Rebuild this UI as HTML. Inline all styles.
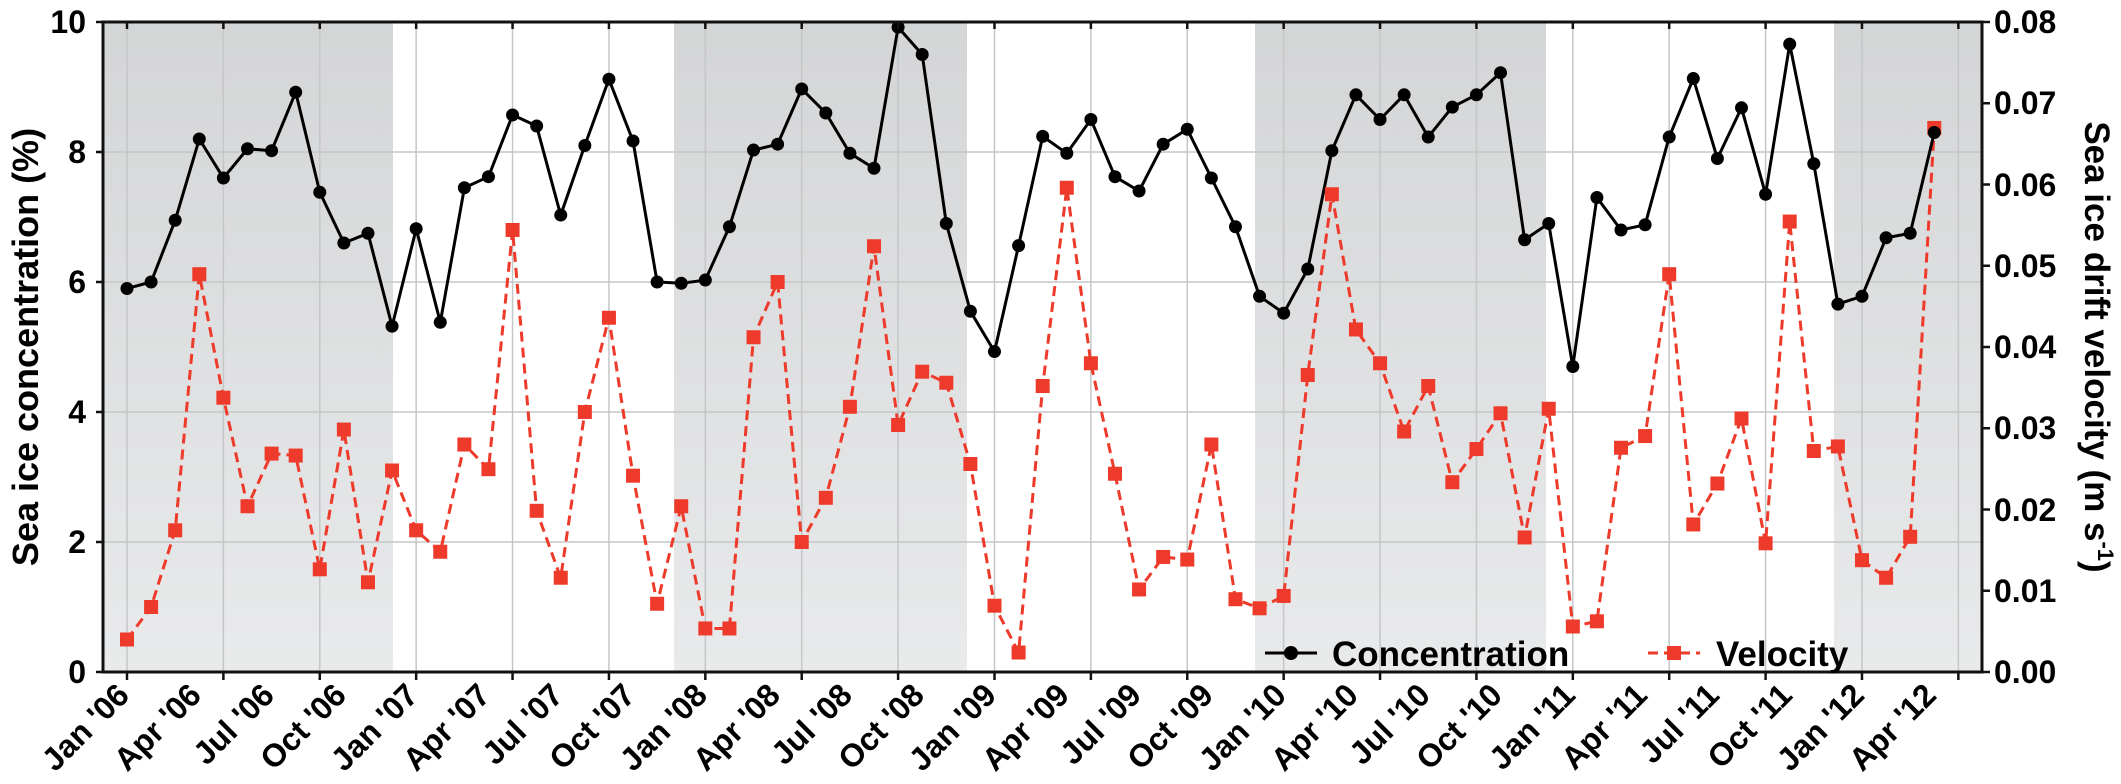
<!DOCTYPE html>
<html><head><meta charset="utf-8"><style>
html,body{margin:0;padding:0;background:#fff;}
svg{display:block;font-family:"Liberation Sans",Arial,sans-serif;font-weight:bold;}
</style></head><body>
<svg id="c" width="2121" height="784" viewBox="0 0 2121 784" xmlns="http://www.w3.org/2000/svg">
<defs>
<linearGradient id="g" x1="0" y1="0" x2="0" y2="1"><stop offset="0" stop-color="#d4d5d6"/><stop offset="1" stop-color="#e9eaeb"/></linearGradient>
</defs>
<rect x="103" y="22" width="290" height="650" fill="url(#g)"/>
<rect x="674" y="22" width="293" height="650" fill="url(#g)"/>
<rect x="1255" y="22" width="291" height="650" fill="url(#g)"/>
<rect x="1834" y="22" width="148" height="650" fill="url(#g)"/>
<g id="grid" stroke="#c4c6c8" stroke-width="1.5"></g>
<g id="series"></g>
<rect x="103" y="22" width="1879" height="650" fill="none" stroke="#111" stroke-width="3"/>
<g id="ticks" stroke="#111" stroke-width="2.5"></g>
<g font-size="32" fill="#000" text-anchor="end">
<text x="86" y="33">10</text><text x="86" y="163">8</text><text x="86" y="293">6</text><text x="86" y="423">4</text><text x="86" y="553">2</text><text x="86" y="683">0</text>
</g>
<g font-size="32" fill="#000" text-anchor="start">
<text x="1994" y="33">0.08</text><text x="1994" y="114">0.07</text><text x="1994" y="196">0.06</text><text x="1994" y="277">0.05</text><text x="1994" y="358">0.04</text><text x="1994" y="439">0.03</text><text x="1994" y="521">0.02</text><text x="1994" y="602">0.01</text><text x="1994" y="683">0.00</text>
</g>
<text font-size="36" text-anchor="middle" transform="translate(38,347) rotate(-90)">Sea ice concentration (%)</text>
<text font-size="35" text-anchor="middle" transform="translate(2085,347) rotate(90)">Sea ice drift velocity (m s<tspan font-size="22" dy="-13">-1</tspan><tspan dy="13">)</tspan></text>
<g font-size="32" text-anchor="end">
<text transform="translate(131,697) rotate(-45)">Jan '06</text>
<text transform="translate(203,697) rotate(-45)">Apr '06</text>
<text transform="translate(276,697) rotate(-45)">Jul '06</text>
<text transform="translate(348,697) rotate(-45)">Oct '06</text>
<text transform="translate(420,697) rotate(-45)">Jan '07</text>
<text transform="translate(492,697) rotate(-45)">Apr '07</text>
<text transform="translate(565,697) rotate(-45)">Jul '07</text>
<text transform="translate(637,697) rotate(-45)">Oct '07</text>
<text transform="translate(709,697) rotate(-45)">Jan '08</text>
<text transform="translate(782,697) rotate(-45)">Apr '08</text>
<text transform="translate(854,697) rotate(-45)">Jul '08</text>
<text transform="translate(926,697) rotate(-45)">Oct '08</text>
<text transform="translate(998,697) rotate(-45)">Jan '09</text>
<text transform="translate(1071,697) rotate(-45)">Apr '09</text>
<text transform="translate(1143,697) rotate(-45)">Jul '09</text>
<text transform="translate(1215,697) rotate(-45)">Oct '09</text>
<text transform="translate(1288,697) rotate(-45)">Jan '10</text>
<text transform="translate(1360,697) rotate(-45)">Apr '10</text>
<text transform="translate(1432,697) rotate(-45)">Jul '10</text>
<text transform="translate(1504,697) rotate(-45)">Oct '10</text>
<text transform="translate(1577,697) rotate(-45)">Jan '11</text>
<text transform="translate(1649,697) rotate(-45)">Apr '11</text>
<text transform="translate(1721,697) rotate(-45)">Jul '11</text>
<text transform="translate(1794,697) rotate(-45)">Oct '11</text>
<text transform="translate(1866,697) rotate(-45)">Jan '12</text>
<text transform="translate(1938,697) rotate(-45)">Apr '12</text>
</g>
<g>
<line x1="1265" y1="653" x2="1317" y2="653" stroke="#000" stroke-width="3"/>
<circle cx="1291" cy="653" r="7" fill="#000"/>
<text x="1332" y="666" font-size="35">Concentration</text>
<line x1="1648" y1="653" x2="1700" y2="653" stroke="#ee3a2a" stroke-width="3" stroke-dasharray="10,6"/>
<rect x="1667" y="646" width="14" height="14" fill="#ee3a2a"/>
<text x="1716" y="666" font-size="35">Velocity</text>
</g>
</svg>
<script>
(function(){
var NS="http://www.w3.org/2000/svg";
function X(m){return 127+m*24.097;}
function Y(v){return 672-65*v;}
var conc=[5.9,6.0,6.95,8.2,7.6,8.05,8.02,8.92,7.38,6.6,6.75,5.32,
6.82,5.38,7.45,7.62,8.57,8.4,7.03,8.1,9.12,8.17,6.0,5.98,
6.03,6.85,8.03,8.12,8.97,8.6,7.98,7.75,9.92,9.5,6.9,5.55,
4.93,6.56,8.24,7.98,8.5,7.62,7.4,8.12,8.35,7.6,6.85,5.78,
5.52,6.2,8.02,8.88,8.5,8.88,8.23,8.69,8.88,9.22,6.65,6.9,
4.7,7.3,6.8,6.88,8.23,9.13,7.9,8.68,7.35,9.66,7.82,5.66,
5.78,6.68,6.75,8.3];
var vel=[0.5,1.0,2.18,6.12,4.22,2.55,3.36,3.33,1.58,3.73,1.38,3.1,
2.18,1.85,3.5,3.12,6.8,2.48,1.45,4.0,5.45,3.02,1.05,2.55,
0.67,0.67,5.15,6.0,2.0,2.68,4.08,6.55,3.8,4.62,4.45,3.2,
1.02,0.3,4.4,7.45,4.75,3.05,1.27,1.77,1.73,3.5,1.12,0.98,
1.17,4.57,7.35,5.27,4.75,3.7,4.4,2.92,3.43,3.98,2.07,4.05,
0.7,0.78,3.45,3.63,6.12,2.27,2.9,3.9,1.98,6.93,3.4,3.47,
1.72,1.45,2.08,8.37];
function el(n,a,p){var e=document.createElementNS(NS,n);for(var k in a)e.setAttribute(k,a[k]);p.appendChild(e);return e;}
var grid=document.getElementById('grid');
for(var i=1;i<5;i++){el('line',{x1:103,x2:1982,y1:672-130*i,y2:672-130*i},grid);}
for(var m=0;m<=76;m+=4){el('line',{x1:X(m),x2:X(m),y1:22,y2:672},grid);}
var t=document.getElementById('ticks');
for(var m=0;m<=76;m+=4){el('line',{x1:X(m),x2:X(m),y1:672,y2:680},t);el('line',{x1:X(m),x2:X(m),y1:22,y2:29},t);}
for(var i=0;i<=8;i++){var y=672-81.25*i;el('line',{x1:1982,x2:1990,y1:y,y2:y},t);}
for(var i=0;i<=5;i++){var y=672-130*i;el('line',{x1:96,x2:103,y1:y,y2:y},t);}
var s=document.getElementById('series');
var pc=conc.map(function(v,i){return X(i).toFixed(1)+','+Y(v).toFixed(1);}).join(' ');
var pv=vel.map(function(v,i){return X(i).toFixed(1)+','+Y(v).toFixed(1);}).join(' ');
el('polyline',{points:pv,fill:'none',stroke:'#ee3a2a','stroke-width':3,'stroke-dasharray':'10,6'},s);
el('polyline',{points:pc,fill:'none',stroke:'#000','stroke-width':3},s);
vel.forEach(function(v,i){el('rect',{x:X(i)-7,y:Y(v)-7,width:14,height:14,fill:'#ee3a2a'},s);});
conc.forEach(function(v,i){el('circle',{cx:X(i),cy:Y(v),r:6.5,fill:'#000'},s);});
})();
</script>
</body></html>
